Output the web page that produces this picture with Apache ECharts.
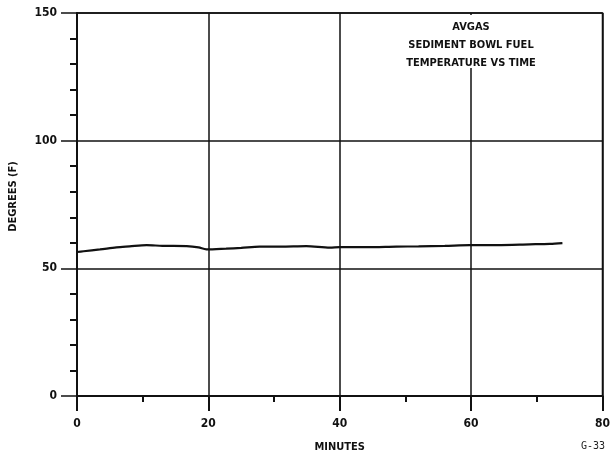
<!DOCTYPE html>
<html><head><meta charset="utf-8">
<script src="https://cdn.jsdelivr.net/npm/echarts@6/dist/echarts.min.js"></script>
<style>html,body{margin:0;padding:0;background:#fff}#c{width:613px;height:458px}</style>
</head><body><div id="c"></div>
<script>
const minutes = [0, 1, 3.5, 6, 8, 10.6, 13, 16.7, 18.5, 19.7, 22.7, 25, 27.8, 31, 34.9, 38.5, 40, 44, 48.6, 52, 56, 59.8, 64, 68.9, 72, 73.9];
const tempF   = [56.4, 56.7, 57.4, 58.2, 58.6, 59.1, 58.8, 58.7, 58.2, 57.4, 57.7, 58.0, 58.5, 58.5, 58.7, 58.1, 58.3, 58.3, 58.5, 58.6, 58.8, 59.1, 59.1, 59.4, 59.6, 59.9];
const xTicks = [0, 20, 40, 60, 80];
const yTicks = [0, 50, 100, 150];
const titleLines = ['AVGAS', 'SEDIMENT BOWL FUEL', 'TEMPERATURE VS TIME'];

const FONT = '"Liberation Sans Narrow", "DejaVu Sans Condensed", "Liberation Sans", sans-serif';
const chart = echarts.init(document.getElementById('c'), null, {renderer: 'canvas'});
chart.setOption({
  backgroundColor: '#fff',
  animation: false,
  grid: {left: 77, right: 10, top: 13, bottom: 61, show: true, borderColor: '#111', borderWidth: 1.5},
  xAxis: {
    type: 'value', min: xTicks[0], max: xTicks[xTicks.length - 1], interval: 20,
    name: 'MINUTES', nameLocation: 'middle', nameGap: 46,
    nameTextStyle: {fontFamily: FONT, fontWeight: 'bold', fontSize: 11, color: '#111'},
    axisLine: {show: true, lineStyle: {color: '#111', width: 2}},
    axisTick: {show: true, length: 15, lineStyle: {color: '#111', width: 2}},
    minorTick: {show: true, splitNumber: 2, length: 6, lineStyle: {color: '#111', width: 2}},
    splitLine: {show: true, lineStyle: {color: '#111', width: 1.5}},
    axisLabel: {margin: 22, fontFamily: FONT, fontWeight: 'bold', fontSize: 12, color: '#111'}
  },
  yAxis: {
    type: 'value', min: yTicks[0], max: yTicks[yTicks.length - 1], interval: 50,
    name: 'DEGREES (F)', nameLocation: 'middle', nameGap: 58, nameRotate: 90,
    nameTextStyle: {fontFamily: FONT, fontWeight: 'bold', fontSize: 11, color: '#111', padding: [0, 0, 0, 16]},
    axisLine: {show: true, lineStyle: {color: '#111', width: 2}},
    axisTick: {show: true, length: 16, lineStyle: {color: '#111', width: 1.5}},
    minorTick: {show: true, splitNumber: 5, length: 7, lineStyle: {color: '#111', width: 2}},
    splitLine: {show: true, lineStyle: {color: '#111', width: 1.5}},
    axisLabel: {margin: 20, fontFamily: FONT, fontWeight: 'bold', fontSize: 12, color: '#111'}
  },
  series: [{
    type: 'line', data: minutes.map((m, i) => [m, tempF[i]]),
    smooth: 0.3, showSymbol: false, z: 3,
    lineStyle: {color: '#111', width: 2.2}
  }],
  graphic: [
    {type: 'rect', z: 100, shape: {x: 404, y: 15, width: 134, height: 53}, style: {fill: '#fff'}},
    {type: 'text', z: 101, x: 471, y: 18, style: {
      text: titleLines.join('\n'), textAlign: 'center',
      font: 'bold 11px ' + FONT, lineHeight: 18, fill: '#111'
    }},
    {type: 'text', z: 101, x: 581, y: 441, style: {
      text: 'G-33', font: '10px "DejaVu Sans Mono", monospace', fill: '#222'
    }}
  ]
});
</script></body></html>
